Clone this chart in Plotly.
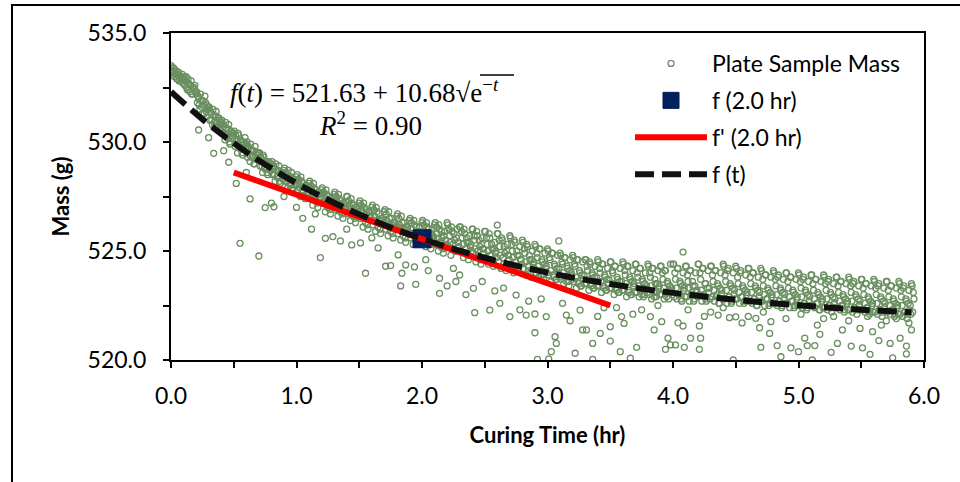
import numpy as np
import plotly.graph_objects as go

# ---- data ----
sample_step_hr = 0.01
# readings at t = 0.00, 0.01, 0.02 ...
mass_band = [
533.5,533.3,533.4,533.1,533.2,532.9,533.2,533.0,532.8,533.1,
532.9,532.6,533.0,532.4,532.7,532.3,532.8,532.2,532.5,532.6,
532.2,531.8,532.0,531.5,531.9,531.3,531.7,532.1,531.4,531.6,
531.5,531.0,531.3,530.8,531.2,530.7,531.4,530.9,531.1,530.6,
530.9,530.4,530.7,530.1,530.6,530.2,530.8,529.9,530.5,530.3,
530.4,529.8,530.1,529.5,530.3,529.7,530.0,529.4,529.9,530.2,
529.9,529.3,529.7,529.1,529.6,529.4,529.0,529.8,529.2,529.5,
529.5,528.9,529.2,528.6,529.3,528.8,529.0,528.5,529.1,528.7,
529.0,528.5,528.8,528.2,528.7,528.4,528.9,528.1,528.6,528.3,
528.7,528.2,528.5,527.9,528.4,528.0,528.6,527.8,528.3,528.1,
528.4,527.8,528.1,527.5,528.2,527.7,527.9,527.4,528.0,527.6,
528.1,527.4,527.8,527.1,527.9,527.3,527.6,527.0,527.7,527.5,
527.8,527.2,527.5,526.8,527.6,527.0,527.3,526.7,527.4,527.1,
527.6,526.9,527.3,526.6,527.4,526.8,527.1,526.5,527.2,527.0,
527.5,526.7,527.1,526.4,527.2,526.6,526.9,526.3,527.0,526.8,
527.2,526.5,526.9,526.1,527.0,526.3,526.7,526.0,526.8,526.6,
527.0,526.2,526.6,525.9,526.8,526.1,526.4,525.8,526.5,526.3,
526.8,526.0,526.4,525.7,526.5,525.9,526.2,525.6,526.3,526.1,
526.6,525.8,526.2,525.5,526.3,525.7,526.0,525.4,526.1,525.9,
526.4,525.6,526.0,525.3,526.2,525.5,525.8,525.4,526.1,525.7,
526.3,525.5,525.9,525.2,526.1,525.4,525.7,525.1,526.0,525.6,
526.2,525.3,525.8,525.0,526.0,525.2,525.6,524.9,525.9,525.5,
526.3,525.2,525.7,524.8,525.9,525.1,525.5,525.0,526.0,525.4,
526.1,525.0,525.6,524.7,525.8,524.9,525.4,524.6,525.7,525.3,
526.0,524.9,525.5,524.5,525.7,524.8,525.2,524.4,525.6,525.1,
525.9,524.7,525.3,524.4,525.6,524.6,525.1,524.3,525.4,525.0,
525.8,524.5,525.2,524.2,525.5,524.4,524.9,524.1,525.3,524.8,
525.7,524.4,525.0,524.0,525.4,524.3,524.8,524.1,525.2,524.6,
525.5,524.2,524.9,523.9,525.2,524.1,524.6,523.8,525.0,524.5,
525.3,524.0,524.7,523.8,525.1,523.9,524.5,523.7,524.9,524.3,
525.1,523.9,524.6,523.6,524.9,523.8,524.3,523.7,524.8,524.2,
524.9,523.7,524.4,523.5,524.7,523.6,524.2,523.4,524.6,524.0,
524.8,523.6,524.3,523.3,524.6,523.5,524.0,523.4,524.5,523.9,
524.6,523.5,524.1,523.2,524.4,523.4,523.9,523.3,524.3,523.8,
524.6,523.4,524.0,523.1,524.4,523.3,523.8,523.2,524.2,523.7,
524.5,523.3,524.0,523.0,524.3,523.2,523.7,523.1,524.2,523.6,
524.5,523.2,523.9,522.9,524.3,523.1,523.7,523.0,524.1,523.5,
524.4,523.1,523.8,522.9,524.2,523.0,523.6,523.0,524.0,523.4,
524.4,523.0,523.8,522.8,524.2,522.9,523.5,523.1,524.1,523.4,
524.3,523.0,523.7,522.8,524.1,522.9,523.5,523.2,524.4,523.3,
524.4,522.9,523.7,522.8,524.2,523.0,523.5,522.7,524.0,523.3,
524.3,522.9,523.6,522.7,524.1,523.1,523.4,522.8,524.0,523.2,
524.4,523.0,523.7,522.7,524.2,522.9,523.5,522.8,524.1,523.3,
524.3,522.9,523.6,522.7,524.1,523.0,523.4,522.6,524.0,523.2,
524.4,522.8,523.6,522.6,524.2,522.9,523.4,522.7,524.0,523.2,
524.3,522.8,523.5,522.6,524.1,522.9,523.3,522.7,523.9,523.1,
524.2,522.7,523.5,522.6,524.0,522.8,523.3,522.5,523.8,523.1,
524.2,522.7,523.4,522.5,523.9,522.8,523.2,522.6,523.8,523.0,
524.1,522.6,523.4,522.5,523.9,522.7,523.2,522.5,523.7,523.0,
524.0,522.6,523.3,522.4,523.8,522.7,523.1,522.5,523.7,522.9,
524.0,522.5,523.3,522.4,523.8,522.6,523.1,522.4,523.6,522.9,
523.9,522.5,523.2,522.4,523.7,522.6,523.0,522.3,523.6,522.8,
523.9,522.4,523.2,522.3,523.7,522.5,523.0,522.4,523.5,522.8,
523.8,522.4,523.1,522.3,523.6,522.5,522.9,522.3,523.5,522.7,
523.8,522.3,523.1,522.2,523.6,522.4,522.9,522.3,523.4,522.7,
523.7,522.3,523.0,522.2,523.5,522.4,522.8,522.2,523.4,522.6,
523.7,522.2,523.0,522.1,523.5,522.3,522.8,522.2,523.3,522.6,
523.6,522.2,522.9,522.1,523.4,522.3,522.7,522.1,523.3,522.5,
523.6,522.1,522.9,522.0,523.4,522.2,522.7,522.1,523.2,522.5,
523.5,522.2,522.8,
]
# interleaved readings at t = 0.005, 0.015, 0.025 ...
mass_band_2 = [
533.4,533.2,533.0,533.3,532.9,533.1,532.8,533.0,532.9,532.7,
533.0,532.8,532.5,532.9,532.4,532.6,532.2,532.5,532.4,532.3,
532.3,532.1,531.7,532.2,531.6,531.9,531.3,531.8,531.7,531.5,
531.6,531.4,531.0,531.5,530.9,531.2,530.7,531.1,531.0,530.8,
531.0,530.8,530.4,530.9,530.3,530.6,530.0,530.5,530.4,530.2,
530.5,530.3,529.9,530.4,529.8,530.1,529.5,530.0,529.9,529.7,
530.0,529.8,529.4,529.9,529.3,529.6,529.0,529.5,529.4,529.2,
529.5,529.3,528.9,529.4,528.8,529.1,528.6,529.0,528.9,528.7,
529.1,528.9,528.5,529.0,528.4,528.7,528.2,528.6,528.5,528.3,
528.8,528.6,528.2,528.7,528.1,528.4,527.9,528.3,528.2,528.0,
528.5,528.3,527.9,528.4,527.8,528.1,527.5,528.0,527.9,527.7,
528.2,528.0,527.6,528.1,527.5,527.8,527.2,527.7,527.6,527.4,
527.9,527.7,527.3,527.8,527.2,527.5,526.9,527.4,527.3,527.1,
527.7,527.5,527.1,527.6,527.0,527.3,526.7,527.2,527.1,526.9,
527.5,527.3,526.9,527.4,526.8,527.1,526.5,527.0,526.9,526.7,
527.3,527.1,526.6,527.2,526.5,526.9,526.2,526.8,526.6,526.4,
527.1,526.9,526.4,527.0,526.3,526.7,526.0,526.5,526.4,526.2,
526.9,526.7,526.2,526.8,526.1,526.5,525.8,526.3,526.2,526.0,
526.7,526.5,526.0,526.6,525.9,526.3,525.6,526.1,526.0,525.8,
526.5,526.3,525.8,526.4,525.7,526.1,525.5,525.9,525.8,525.6,
526.4,526.2,525.7,526.3,525.6,526.0,525.3,525.8,525.7,525.5,
526.3,526.1,525.6,526.2,525.4,525.9,525.1,525.7,525.5,525.3,
526.2,526.0,525.4,526.1,525.3,525.8,525.0,525.6,525.4,525.2,
526.1,525.9,525.3,526.0,525.1,525.6,524.8,525.4,525.2,525.0,
526.0,525.7,525.1,525.9,525.0,525.5,524.6,525.3,525.1,524.9,
525.9,525.6,525.0,525.8,524.8,525.3,524.5,525.1,524.9,524.7,
525.8,525.5,524.8,525.6,524.7,525.2,524.3,525.0,524.8,524.6,
525.6,525.3,524.7,525.5,524.5,525.0,524.2,524.8,524.6,524.4,
525.4,525.1,524.5,525.3,524.3,524.8,524.0,524.6,524.4,524.2,
525.2,524.9,524.3,525.1,524.1,524.6,523.9,524.4,524.2,524.0,
525.0,524.7,524.1,524.9,523.9,524.4,523.7,524.2,524.0,523.8,
524.8,524.5,524.0,524.7,523.8,524.3,523.6,524.1,523.9,523.7,
524.7,524.4,523.8,524.6,523.6,524.1,523.4,523.9,523.7,523.5,
524.6,524.3,523.7,524.5,523.5,524.0,523.3,523.8,523.6,523.4,
524.5,524.2,523.6,524.4,523.4,523.9,523.2,523.7,523.5,523.3,
524.5,524.1,523.5,524.3,523.3,523.8,523.1,523.6,523.4,523.2,
524.4,524.1,523.5,524.3,523.2,523.8,523.0,523.6,523.4,523.1,
524.4,524.0,523.4,524.2,523.2,523.7,522.9,523.5,523.3,523.1,
524.3,524.0,523.4,524.2,523.1,523.7,522.9,523.5,523.3,523.0,
524.3,524.0,523.3,524.1,523.1,523.6,522.8,523.4,523.2,523.0,
524.4,524.0,523.3,524.2,523.0,523.6,522.8,523.4,523.2,522.9,
524.3,523.9,523.3,524.1,523.0,523.6,522.7,523.4,523.1,522.9,
524.4,524.0,523.2,524.2,523.0,523.5,522.7,523.3,523.1,522.8,
524.3,523.9,523.2,524.1,522.9,523.5,522.6,523.3,523.0,522.8,
524.3,523.9,523.2,524.1,522.9,523.5,522.6,523.3,523.0,522.8,
524.2,523.8,523.1,524.0,522.9,523.4,522.6,523.2,523.0,522.7,
524.2,523.8,523.1,524.0,522.8,523.4,522.5,523.2,522.9,522.7,
524.1,523.7,523.0,523.9,522.8,523.3,522.5,523.1,522.9,522.6,
524.0,523.7,523.0,523.8,522.7,523.3,522.4,523.1,522.8,522.6,
524.0,523.6,522.9,523.8,522.7,523.2,522.4,523.0,522.8,522.5,
523.9,523.6,522.9,523.7,522.6,523.2,522.3,523.0,522.7,522.5,
523.9,523.5,522.8,523.7,522.6,523.1,522.3,522.9,522.7,522.4,
523.8,523.5,522.8,523.6,522.5,523.1,522.2,522.9,522.6,522.4,
523.8,523.4,522.7,523.6,522.5,523.0,522.2,522.8,522.6,522.3,
523.7,523.4,522.7,523.5,522.4,523.0,522.1,522.8,522.5,522.3,
523.7,523.3,522.6,523.5,522.4,522.9,522.1,522.7,522.5,522.2,
523.6,523.3,522.6,523.4,522.3,522.9,522.0,522.7,522.4,522.2,
523.6,523.2,522.5,523.4,522.3,522.8,522.0,522.6,522.4,522.1,
523.5,523.2,522.5,523.3,522.2,522.8,521.9,522.6,522.3,522.1,
523.4,523.1,
]

scatter_t = [0.22,0.34,0.46,0.52,0.55,0.70,0.63,0.75,0.82,0.80,1.05,1.12,1.19,1.23,1.29,
             1.35,1.44,1.51,1.55,1.65,1.71,1.75,1.81,1.83,1.95,1.87,1.84,1.94,2.14,2.42,
             2.70,2.90,3.06,3.07,3.03,3.22,3.31,3.36,3.42,3.50,3.58,3.71,3.66,2.92,3.01,
             3.36,3.94,3.98,2.90,2.99,3.15,3.26,3.28,3.50,3.59,3.61,3.82,3.85,3.91,3.96,
             2.41,2.58,2.75,2.83,2.54,3.09,2.60,4.02,4.09,4.21,4.22,4.14,4.48,4.70,4.69,
             4.83,4.86,4.94,5.00,5.05,5.07,5.13,5.11,5.26,5.31,5.42,5.51,5.57,5.64,5.73,
             5.75,5.86,5.86,5.81,5.90,5.49,5.35,5.17,4.77,4.45,4.50,4.08,4.04,4.21,4.36,
             4.66,4.78,5.59,4.08,2.14,2.25,2.27,2.03,2.05,2.30,2.48,2.65,2.85,3.12,3.45,
             3.75,4.30,4.60,5.20,5.70,3.55,3.68,3.88,4.12,4.25,4.40,4.55,4.72,4.90,5.02,
             5.15,5.28,5.40,5.55,5.66,5.78,5.88,2.20,2.35,2.62,2.78,2.95,3.18,3.40,0.30,
             0.42,0.60,0.90,1.00,1.15,1.40,1.60]
scatter_m = [530.55,529.48,529.07,528.10,525.35,524.77,527.39,526.99,527.03,527.20,526.50,526.00,524.70,525.58,525.66,
             525.46,525.28,525.37,523.98,525.14,524.30,524.33,524.82,523.40,523.47,524.36,523.98,524.27,523.06,522.17,
             521.99,521.25,521.07,520.76,520.38,520.31,521.38,520.76,521.22,520.87,520.38,520.58,520.08,520.03,520.05,
             520.03,520.49,520.69,522.11,521.99,522.06,522.29,521.38,521.53,521.99,521.68,521.99,521.38,521.76,521.00,
             523.29,523.17,522.98,522.06,522.29,525.46,526.19,520.69,520.58,520.49,521.00,521.00,520.00,520.58,521.48,
             520.66,520.15,520.56,520.38,521.00,520.66,520.66,520.00,520.35,520.76,520.64,520.56,520.26,520.89,520.76,
             520.10,520.28,520.64,521.00,521.38,521.45,521.38,521.18,521.22,521.94,521.98,521.56,521.71,521.56,522.06,
             521.91,521.76,521.30,524.95,523.75,524.20,523.60,524.60,524.10,523.90,523.60,523.30,522.70,522.60,522.40,
             522.30,522.20,522.00,521.90,521.80,522.40,522.10,522.50,522.30,522.00,522.40,521.70,522.20,521.90,522.10,
             521.60,522.00,521.80,522.00,521.60,521.90,521.70,523.40,523.00,522.60,522.30,522.80,521.80,522.00,530.20,
             529.60,528.60,527.50,527.00,526.70,526.00,525.60]

fit_t = [0, 0.25, 0.5, 0.75, 1.0, 1.25, 1.5, 1.75, 2.0, 2.25, 2.5, 2.75, 3.0, 3.25, 3.5, 3.75,
         4.0, 4.5, 5.0, 5.5, 5.9]
fit_m = [532.31, 531.05, 529.95, 528.97, 528.11, 527.35, 526.68, 526.08, 525.56, 525.10, 524.69,
         524.33, 524.01, 523.73, 523.49, 523.27, 523.08, 522.76, 522.51, 522.31, 522.19]

point_t = [2.0]
point_m = [525.56]

tangent_t = [0.5, 3.5]
tangent_m = [528.6, 522.5]

x_ticks = [0, 1, 2, 3, 4, 5, 6]
y_ticks = [520, 525, 530, 535]

# ---- figure ----
band_t = [round(i * sample_step_hr, 3) for i in range(len(mass_band))]
band_t2 = [round((i + 0.5) * sample_step_hr, 3) for i in range(len(mass_band_2))]
all_t = band_t + band_t2 + scatter_t
all_m = mass_band + mass_band_2 + scatter_m

FONT = "Lato"
green = "rgb(106,143,96)"

fig = go.Figure()
fig.add_trace(go.Scatter(
    x=all_t, y=all_m, mode="markers", name="Plate Sample Mass",
    marker=dict(symbol="circle-open", size=6, color=green, line=dict(width=1.3, color=green)),
    legendgroup="a"))
fig.add_trace(go.Scatter(
    x=point_t, y=point_m, mode="markers", name="f (2.0 hr)",
    marker=dict(symbol="square", size=18, color="#002060", line=dict(width=1, color="#001a4d")),
    legendgroup="b"))
fig.add_trace(go.Scatter(
    x=tangent_t, y=tangent_m, mode="lines", name="f' (2.0 hr)",
    line=dict(color="#ff0000", width=6), legendgroup="c"))
fig.add_trace(go.Scatter(
    x=fit_t, y=fit_m, mode="lines", name="f (t)", line_shape="spline",
    line=dict(color="#111111", width=6, dash="19px,8px"), legendgroup="d"))

axis_common = dict(showline=True, linewidth=2, linecolor="black", mirror=True,
                   ticks="outside", ticklen=6, tickwidth=1.5, tickcolor="black",
                   showgrid=False, zeroline=False, automargin=False,
                   tickfont=dict(family=FONT, size=23, color="black"))

fig.update_xaxes(range=[0, 6], tickvals=x_ticks, tickformat=".1f",
                 minor=dict(dtick=0.5, ticks="outside", ticklen=6, tickwidth=1.5, tickcolor="black"),
                 title=dict(text="<b>Curing Time (hr)</b>", font=dict(family=FONT, size=22, color="black"), standoff=20),
                 ticklabelstandoff=8, **axis_common)
fig.update_yaxes(range=[520, 535], tickvals=y_ticks, tickformat=".1f",
                 minor=dict(dtick=2.5, ticks="outside", ticklen=6, tickwidth=1.5, tickcolor="black"),
                 title=dict(text="<b>Mass (g)</b>", font=dict(family=FONT, size=22, color="black"), standoff=12),
                 ticklabelstandoff=12, **axis_common)

L, R, T, B = 171, 36, 33, 122
W, H = 960, 482
pw, ph = W - L - R, H - T - B

def px(x):
    return (x - L) / pw

def py(y):
    return (H - B - y) / ph

fig.update_layout(
    width=W, height=H, margin=dict(l=L, r=R, t=T, b=B, autoexpand=False),
    plot_bgcolor="white", paper_bgcolor="white",
    font=dict(family=FONT, color="black"),
    legend=dict(x=px(630), y=py(42), xanchor="left", yanchor="top",
                font=dict(family=FONT, size=23, color="black"),
                bgcolor="rgba(0,0,0,0)", itemwidth=72, tracegroupgap=4,
                traceorder="grouped"),
    shapes=[dict(type="rect", xref="paper", yref="paper",
                 x0=px(12), x1=px(965), y0=py(490), y1=py(5),
                 line=dict(color="black", width=2), layer="below"),
            dict(type="line", xref="paper", yref="paper",
                 x0=px(480), x1=px(514), y0=py(75), y1=py(75),
                 line=dict(color="black", width=1.5))],
    annotations=[
        dict(xref="paper", yref="paper", x=px(364), y=py(91), showarrow=False,
             xanchor="center", yanchor="middle",
             text="<i>f</i>(<i>t</i>) = 521.63 + 10.68√e<sup>−<i>t</i></sup>",
             font=dict(family="Liberation Serif", size=27, color="black")),
        dict(xref="paper", yref="paper", x=px(370), y=py(124), showarrow=False,
             xanchor="center", yanchor="middle",
             text="<i>R</i><sup>2</sup> = 0.90",
             font=dict(family="Liberation Serif", size=27, color="black")),
    ],
)

fig.write_html("out.html", config={"displayModeBar": False},
               post_script="document.body.style.margin='0';document.body.style.padding='0';")
